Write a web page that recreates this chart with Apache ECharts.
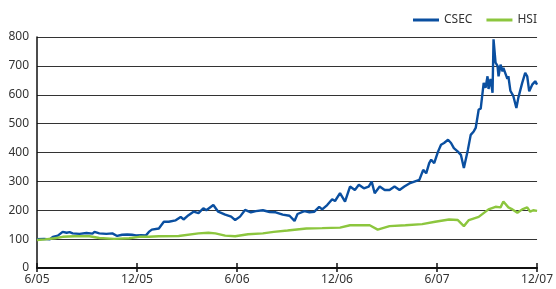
<!DOCTYPE html>
<html><head><meta charset="utf-8">
<script src="https://cdn.jsdelivr.net/npm/echarts@6/dist/echarts.min.js"></script>
<style>html,body{margin:0;padding:0;background:#fff}#c{width:556px;height:289px}</style>
</head><body><div id="c"></div>
<script>
// months elapsed since June 2005
const xTickLabels = ['6/05','12/05','6/06','12/06','6/07','12/07'];
const csecMonths = [0,0.42,0.77,0.95,1.25,1.54,1.78,1.96,2.14,2.55,2.97,3.33,3.45,3.74,4.16,4.52,4.81,5.11,5.41,5.70,5.94,6.24,6.54,6.71,6.89,7.31,7.61,7.90,8.32,8.62,8.79,9.09,9.39,9.69,9.98,10.16,10.58,10.87,11.29,11.65,11.89,12.18,12.48,12.83,13.13,13.55,13.96,14.32,14.74,15.15,15.45,15.63,16.04,16.34,16.64,16.93,17.11,17.41,17.71,17.88,18.18,18.48,18.78,19.07,19.31,19.61,19.90,20.08,20.26,20.56,20.86,21.15,21.45,21.75,22.04,22.34,22.64,22.94,23.17,23.35,23.53,23.65,23.83,24.06,24.24,24.42,24.66,24.84,25.01,25.25,25.43,25.61,25.85,26.02,26.20,26.32,26.50,26.62,26.80,26.91,27.03,27.09,27.21,27.33,27.39,27.51,27.63,27.69,27.81,27.93,27.98,28.22,28.28,28.40,28.58,28.76,28.88,29.11,29.29,29.41,29.53,29.71,29.89,30.0];
const csecValues = [100,101,99,108,112,125,122,124,120,118,121,119,125,120,118,120,111,115,116,115,113,114,113,125,133,137,160,160,165,177,168,183,195,190,207,200,218,195,185,178,166,178,201,193,197,200,194,193,185,181,163,187,197,193,195,212,203,218,238,232,259,230,282,270,288,276,282,299,259,282,270,270,282,270,282,293,299,305,340,328,363,375,363,403,427,433,444,433,415,403,392,346,409,461,473,485,549,552,641,624,664,620,655,607,792,711,700,664,704,681,693,655,664,614,595,554,590,641,676,664,612,635,647,635];
const hsiMonths = [0,0.48,1.07,1.54,2.26,3.15,3.74,4.63,5.53,6.12,6.71,7.31,8.50,9.69,10.28,10.70,11.29,11.89,12.66,13.55,14.20,15.03,16.16,17.11,18.18,18.78,19.96,20.44,21.15,22.10,23.11,23.89,24.72,25.25,25.61,25.91,26.50,27.09,27.51,27.81,27.98,28.28,28.46,28.82,29.11,29.41,29.59,29.77,30.0];
const hsiValues = [97,99,103,108,110,110,104,101,103,108,108,110,111,120,122,120,112,110,117,120,125,130,137,138,140,148,148,133,145,148,152,160,168,166,145,166,177,203,212,210,230,210,205,191,203,210,195,200,198];
const yTicks = [0,100,200,300,400,500,600,700,800];

const zip = (a,b) => a.map((v,i)=>[v,b[i]]);
const chart = echarts.init(document.getElementById('c'), null, {renderer:'canvas'});
const font = 'Noto Sans';
chart.setOption({
  animation:false,
  textStyle:{fontFamily:font},
  legend:{right:14, top:9, itemWidth:26, itemHeight:3, itemGap:14,
    icon:'rect',
    textStyle:{fontSize:12, color:'#333', fontFamily:font},
    data:['CSEC','HSI']},
  grid:{left:37, right:14, top:37, bottom:21},
  xAxis:[{type:'value', min:0, max:30, interval:6,
    axisLine:{show:true, lineStyle:{color:'#111', width:2}},
    axisTick:{show:true, length:4, lineStyle:{color:'#111', width:1.5}},
    axisLabel:{color:'#333', fontSize:12, margin:6, fontFamily:font,
      formatter:v=>xTickLabels[Math.round(v/6)]},
    splitLine:{show:false}},
   {type:'value', min:0, max:30, interval:6, position:'bottom',
    axisLine:{show:false},
    axisTick:{show:true, inside:true, length:5, lineStyle:{color:'#111', width:1.5}},
    axisLabel:{show:false}, splitLine:{show:false}}],
  yAxis:{type:'value', min:yTicks[0], max:yTicks[yTicks.length-1], interval:100,
    axisLine:{show:true, lineStyle:{color:'#111', width:1.5}},
    axisTick:{show:false},
    axisLabel:{color:'#333', fontSize:12, margin:8, fontFamily:font},
    splitLine:{lineStyle:{color:'#333', width:1.2}}},
  series:[
    {name:'CSEC', type:'line', data:zip(csecMonths,csecValues), showSymbol:false, symbol:'none',
     lineStyle:{color:'#0a4fa0', width:2.4}, itemStyle:{color:'#0a4fa0'}, z:3},
    {name:'HSI', type:'line', data:zip(hsiMonths,hsiValues), showSymbol:false, symbol:'none',
     lineStyle:{color:'#8cc63e', width:2.4}, itemStyle:{color:'#8cc63e'}, z:4}
  ]
});
</script></body></html>
